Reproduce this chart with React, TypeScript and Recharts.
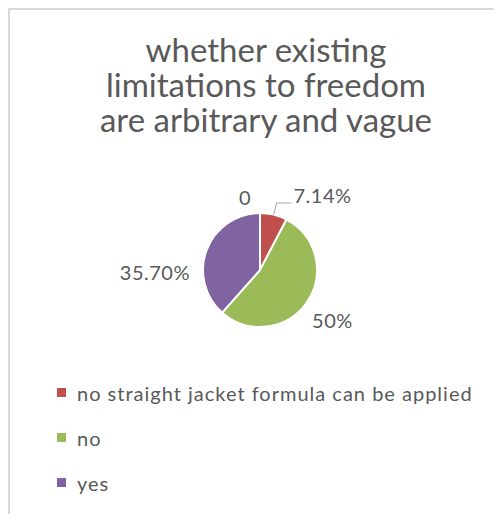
import React from 'react';
import { PieChart, Pie, Cell, Legend } from 'recharts';

const categories = ['no straight jacket formula can be applied', 'no', 'yes', ''];
const values = [7.14, 50, 35.7, 0];
const valueLabels = ['7.14%', '50%', '35.70%', '0'];
const colors = ['#c0504d', '#9bbb59', '#8064a2', '#4bacc6'];
const titleLines = ['whether existing', 'limitations to freedom', 'are arbitrary and vague'];

const data = categories.map((name, i) => ({ name, value: values[i], label: valueLabels[i] }));

const RADIAN = Math.PI / 180;
const FONT = 'Lato, "Open Sans", sans-serif';
const TEXT = '#595959';
const LABEL_SIZE = 20;

// placement of each data label relative to its slice (Excel "best fit" look)
const labelPlace = [
  { dr: 12, dx: 0, dy: 0, anchor: 'start', leader: true },
  { dr: 31, dx: 0, dy: 0, anchor: 'middle', leader: false },
  { dr: 0, dx: 0, dy: 0, anchor: 'end', leader: false },
  { dr: 16, dx: -15, dy: 0, anchor: 'middle', leader: false },
];

function renderLabel(props: any) {
  const { cx, cy, midAngle, outerRadius, index } = props;
  const p = labelPlace[index];
  const cos = Math.cos(-midAngle * RADIAN);
  const sin = Math.sin(-midAngle * RADIAN);
  const common = { fill: TEXT, fontSize: LABEL_SIZE, fontFamily: FONT, letterSpacing: 0.5 };
  if (index === 2) {
    // left side label, anchored at its right end
    return (
      <text key={index} x={cx - outerRadius - 13} y={cy + 2} textAnchor="end" dominantBaseline="central" {...common}>
        {data[index].label}
      </text>
    );
  }
  const x = cx + (outerRadius + p.dr) * cos + p.dx;
  const y = cy + (outerRadius + p.dr) * sin + p.dy;
  if (p.leader) {
    const x0 = cx + outerRadius * cos;
    const y0 = cy + outerRadius * sin;
    return (
      <g key={index}>
        <polyline points={`${x0},${y0} ${x},${y} ${x + 15},${y}`} fill="none" stroke="#a6a6a6" strokeWidth={1} />
        <text x={x + 17} y={y} textAnchor="start" {...common}>
          {data[index].label}
        </text>
      </g>
    );
  }
  return (
    <text key={index} x={x} y={y} textAnchor={p.anchor as any} dominantBaseline="central" {...common}>
      {data[index].label}
    </text>
  );
}

function renderLegend(props: any) {
  const items = (props.payload || [])
    .filter((e: any) => e.payload && e.payload.value > 0)
    .sort((a: any, b: any) => categories.indexOf(a.value) - categories.indexOf(b.value));
  return (
    <div style={{ fontFamily: FONT }}>
      {items.map((entry: any, i: number) => (
        <div key={i} style={{ display: 'flex', alignItems: 'center', height: 45 }}>
          <span style={{ width: 9, height: 9, background: entry.color, display: 'inline-block', marginRight: 11 }} />
          <span style={{ color: TEXT, fontSize: 20, letterSpacing: 1 }}>{entry.value}</span>
        </div>
      ))}
    </div>
  );
}

export default function App() {
  return (
    <div
      style={{
        position: 'relative',
        width: 494,
        height: 506,
        boxSizing: 'border-box',
        borderTop: '2px solid #d9d9d9',
        borderLeft: '2px solid #d9d9d9',
        background: '#fff',
        overflow: 'hidden',
      }}
    >
      <div
        style={{
          position: 'absolute',
          left: 0,
          top: 22,
          width: 512,
          textAlign: 'center',
          fontFamily: FONT,
          fontSize: 33,
          lineHeight: '35px',
          color: TEXT,
        }}
      >
        {titleLines.map((t, i) => (
          <div key={i}>{t}</div>
        ))}
      </div>
      <div style={{ position: 'absolute', left: 0, top: 0 }}>
        <PieChart width={492} height={504} margin={{ top: 0, right: 0, bottom: 0, left: 0 }}>
          <Pie
            data={data}
            dataKey="value"
            nameKey="name"
            cx={250}
            cy={260}
            outerRadius={57}
            startAngle={90}
            endAngle={-270}
            stroke="#fff"
            strokeWidth={2}
            label={renderLabel}
            labelLine={false}
            isAnimationActive={false}
          >
            {data.map((d, i) => (
              <Cell key={i} fill={colors[i]} />
            ))}
          </Pie>
          <Legend
            layout="horizontal"
            verticalAlign="bottom"
            align="left"
            content={renderLegend}
            wrapperStyle={{ top: 360, left: 47, bottom: 'auto', width: 440 }}
          />
        </PieChart>
      </div>
    </div>
  );
}
